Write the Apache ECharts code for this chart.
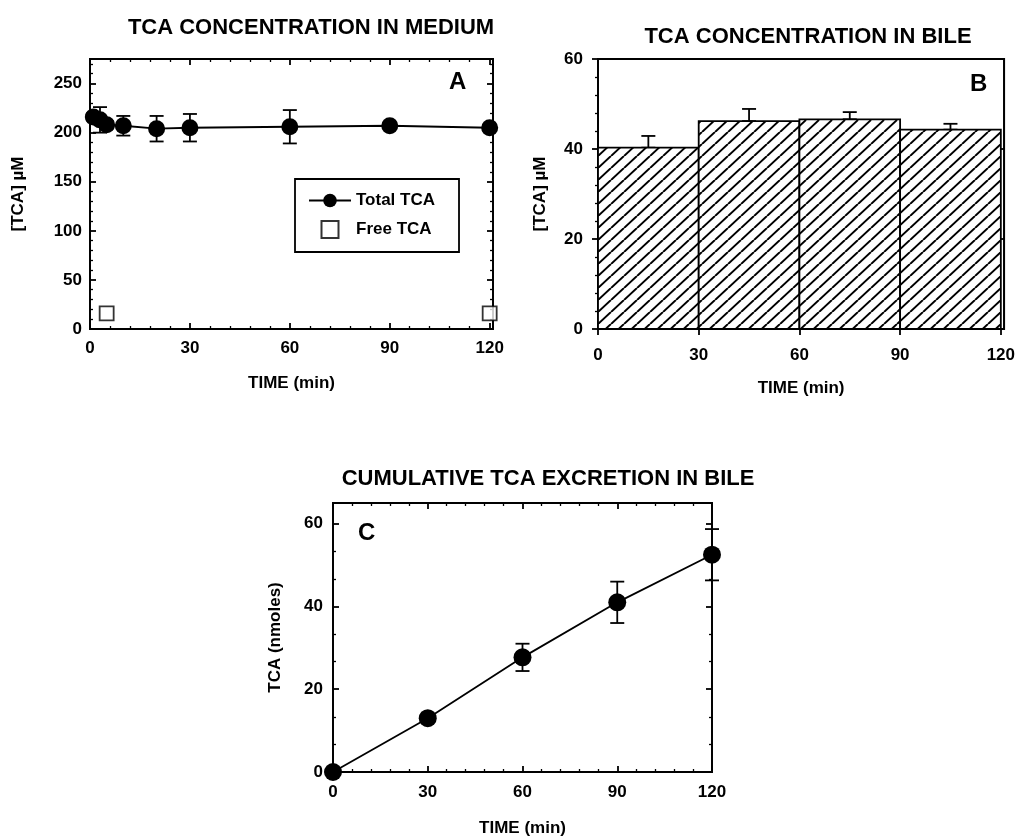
<!DOCTYPE html>
<html>
<head>
<meta charset="utf-8">
<script src="https://cdn.jsdelivr.net/npm/echarts@6/dist/echarts.min.js"></script>
<style>
  html, body { margin: 0; padding: 0; background: #fff; }
  #chart { width: 1018px; height: 840px; }
</style>
</head>
<body>
<div id="chart"></div>
<script>
// Panel A: TCA in the incubation medium
const timeA = [1, 3, 5, 10, 20, 30, 60, 90, 120];
const totalA = [216, 213, 208, 207, 204, 205, 206, 207, 205];
const totalErrA = [4, 13, 4, 10, 13, 14, 17, 3, 3];
const freeTimeA = [5, 120];
const freeA = [16, 16];

// Panel B: TCA concentration in bile per 30-min collection period
const binStartB = [0, 30, 60, 90];
const binEndB = [30, 60, 90, 120];
const bileB = [40.3, 46.2, 46.6, 44.3];
const bileErrB = [2.6, 2.7, 1.6, 1.3];

// Panel C: cumulative biliary excretion
const timeC = [0, 30, 60, 90, 120];
const cumC = [0, 13.0, 27.7, 41.0, 52.5];
const cumErrC = [0, 0, 3.3, 5.0, 6.2];

const FONT = "'Liberation Sans', Arial, sans-serif";
const BLACK = '#000';

// diagonal hatch used to fill the bile bars
function hatchPattern() {
  const c = document.createElement('canvas');
  const w = 13, h = 12;
  c.width = w; c.height = h;
  const g = c.getContext('2d');
  g.fillStyle = '#fff';
  g.fillRect(0, 0, w, h);
  g.strokeStyle = '#000';
  g.lineWidth = 2;
  g.beginPath();
  // main diagonal plus the neighbouring copies so the tile wraps cleanly
  for (let k = -1; k <= 1; k++) {
    g.moveTo(k * w, h);
    g.lineTo(k * w + w, 0);
  }
  g.stroke();
  return c;
}
const hatch = hatchPattern();

// vertical error bar with caps between value(1) and value(2)
function errorBar(params, api) {
  const x = api.value(0);
  const lo = api.coord([x, api.value(1)]);
  const hi = api.coord([x, api.value(2)]);
  const w = 7;
  const st = { stroke: BLACK, lineWidth: 1.8 };
  return {
    type: 'group',
    children: [
      { type: 'line', shape: { x1: lo[0], y1: lo[1], x2: hi[0], y2: hi[1] }, style: st },
      { type: 'line', shape: { x1: hi[0] - w, y1: hi[1], x2: hi[0] + w, y2: hi[1] }, style: st },
      { type: 'line', shape: { x1: lo[0] - w, y1: lo[1], x2: lo[0] + w, y2: lo[1] }, style: st }
    ]
  };
}

function histBar(params, api) {
  const p0 = api.coord([api.value(0), 0]);
  const p1 = api.coord([api.value(1), api.value(2)]);
  return {
    type: 'rect',
    shape: { x: p0[0], y: p1[1], width: p1[0] - p0[0], height: p0[1] - p1[1] },
    style: { fill: { image: hatch, repeat: 'repeat' }, stroke: BLACK, lineWidth: 1.8 }
  };
}

const labelStyle = { color: BLACK, fontFamily: FONT, fontWeight: 'bold', fontSize: 17 };
const nameStyle = { color: BLACK, fontFamily: FONT, fontWeight: 'bold', fontSize: 17 };
const titleStyle = { fontFamily: FONT, fontWeight: 'bold', fontSize: 22, color: BLACK };
const lineStyle = { color: BLACK, width: 1.8 };
const minorStyle = { color: BLACK, width: 1.3 };

function valueAxis(opts) {
  const inside = opts.inside !== false;
  return Object.assign({
    type: 'value',
    axisLine: { show: true, onZero: false, lineStyle: lineStyle },
    axisTick: { show: true, inside: inside, length: 6, lineStyle: lineStyle },
    minorTick: { show: true, splitNumber: 5, length: 3, lineStyle: minorStyle },
    splitLine: { show: false },
    minorSplitLine: { show: false },
    axisLabel: Object.assign({ showMaxLabel: false }, labelStyle),
    nameTextStyle: nameStyle,
    nameLocation: 'middle'
  }, opts.extra);
}
function mirrorAxis(opts) {
  return valueAxis({
    extra: Object.assign({ axisLabel: { show: false } }, opts)
  });
}

const gridBox = { show: true, borderColor: BLACK, borderWidth: 1.8, backgroundColor: 'transparent' };

const option = {
  backgroundColor: '#fff',
  animation: false,
  title: [
    { text: 'TCA CONCENTRATION IN MEDIUM', left: 306, top: 12, textAlign: 'center', textStyle: titleStyle },
    { text: 'TCA CONCENTRATION IN BILE', left: 803, top: 21, textAlign: 'center', textStyle: titleStyle },
    { text: 'CUMULATIVE TCA EXCRETION IN BILE', left: 543, top: 463, textAlign: 'center', textStyle: titleStyle }
  ],
  grid: [
    Object.assign({ left: 90, top: 59, width: 403, height: 270 }, gridBox),
    Object.assign({ left: 598, top: 59, width: 407, height: 270 }, gridBox),
    Object.assign({ left: 333, top: 503, width: 379, height: 269 }, gridBox)
  ],
  xAxis: [
    valueAxis({ extra: { gridIndex: 0, min: 0, max: 121, interval: 30, name: 'TIME (min)', nameGap: 46,
      axisLabel: Object.assign({ showMaxLabel: false, margin: 11 }, labelStyle) } }),
    mirrorAxis({ gridIndex: 0, position: 'top', min: 0, max: 121, interval: 30 }),
    valueAxis({ inside: false, extra: { gridIndex: 1, min: 0, max: 121, interval: 30, name: 'TIME (min)', nameGap: 51,
      minorTick: { show: false },
      axisTick: { show: true, inside: false, length: 6, lineStyle: lineStyle },
      axisLabel: Object.assign({ showMaxLabel: false, margin: 18 }, labelStyle) } }),
    valueAxis({ extra: { gridIndex: 2, min: 0, max: 120, interval: 30, name: 'TIME (min)', nameGap: 48,
      axisLabel: Object.assign({ showMaxLabel: true, margin: 12 }, labelStyle) } }),
    mirrorAxis({ gridIndex: 2, position: 'top', min: 0, max: 120, interval: 30 })
  ],
  yAxis: [
    valueAxis({ extra: { gridIndex: 0, min: 0, max: 275, interval: 50, name: '[TCA] µM', nameGap: 63,
      axisLabel: Object.assign({ showMaxLabel: false, margin: 8 }, labelStyle) } }),
    mirrorAxis({ gridIndex: 0, position: 'right', min: 0, max: 275, interval: 50 }),
    valueAxis({ extra: { gridIndex: 1, min: 0, max: 60, interval: 20, name: '[TCA] µM', nameGap: 49,
      axisTick: { show: true, inside: false, length: 6, lineStyle: lineStyle },
      axisLabel: Object.assign({ showMaxLabel: true, margin: 15 }, labelStyle) } }),
    mirrorAxis({ gridIndex: 1, position: 'right', min: 0, max: 60, interval: 20,
      minorTick: { show: false } }),
    valueAxis({ extra: { gridIndex: 2, min: 0, max: 65, interval: 20, name: 'TCA (nmoles)', nameGap: 49,
      minorTick: { show: true, splitNumber: 3, length: 3, lineStyle: minorStyle },
      axisLabel: Object.assign({ showMaxLabel: false, margin: 10 }, labelStyle) } }),
    mirrorAxis({ gridIndex: 2, position: 'right', min: 0, max: 65, interval: 20,
      minorTick: { show: true, splitNumber: 3, length: 3, lineStyle: minorStyle } })
  ],
  legend: {
    data: [
      { name: 'Total TCA' },
      { name: 'Free TCA', icon: 'path://M0,0L10,0L10,10L0,10Z' }
    ],
    orient: 'vertical',
    left: 295, top: 179,
    padding: [13, 24, 13, 13],
    itemWidth: 42, itemHeight: 17, itemGap: 11,
    symbolKeepAspect: true,
    borderColor: BLACK, borderWidth: 1.8,
    textStyle: { fontFamily: FONT, fontWeight: 'bold', fontSize: 17, color: BLACK }
  },
  graphic: [
    { type: 'text', left: 449, top: 70, style: { text: 'A', fontFamily: FONT, fontWeight: 'bold', fontSize: 24, fill: BLACK } },
    { type: 'text', left: 970, top: 72, style: { text: 'B', fontFamily: FONT, fontWeight: 'bold', fontSize: 24, fill: BLACK } },
    { type: 'text', left: 358, top: 521, style: { text: 'C', fontFamily: FONT, fontWeight: 'bold', fontSize: 24, fill: BLACK } }
  ],
  series: [
    {
      type: 'custom', xAxisIndex: 0, yAxisIndex: 0, z: 1,
      renderItem: errorBar,
      data: timeA.map((t, i) => [t, totalA[i] - totalErrA[i], totalA[i] + totalErrA[i]])
    },
    {
      name: 'Total TCA', type: 'line', xAxisIndex: 0, yAxisIndex: 0, z: 3,
      data: timeA.map((t, i) => [t, totalA[i]]),
      symbol: 'circle', symbolSize: 17,
      itemStyle: { color: BLACK },
      lineStyle: { color: BLACK, width: 1.8 }
    },
    {
      name: 'Free TCA', type: 'scatter', xAxisIndex: 0, yAxisIndex: 0, z: 3,
      data: freeTimeA.map((t, i) => [t, freeA[i]]),
      symbol: 'rect', symbolSize: 14,
      itemStyle: { color: '#fff', borderColor: BLACK, borderWidth: 1.8 }
    },
    {
      type: 'custom', xAxisIndex: 2, yAxisIndex: 2, z: 2,
      renderItem: histBar,
      data: binStartB.map((s, i) => [s, binEndB[i], bileB[i]])
    },
    {
      type: 'custom', xAxisIndex: 2, yAxisIndex: 2, z: 1,
      renderItem: errorBar,
      data: binStartB.map((s, i) => [(s + binEndB[i]) / 2, bileB[i], bileB[i] + bileErrB[i]])
    },
    {
      type: 'custom', xAxisIndex: 3, yAxisIndex: 4, z: 1,
      renderItem: errorBar,
      data: timeC.map((t, i) => [t, cumC[i] - cumErrC[i], cumC[i] + cumErrC[i]])
    },
    {
      name: 'Cumulative TCA', type: 'line', xAxisIndex: 3, yAxisIndex: 4, z: 3,
      data: timeC.map((t, i) => [t, cumC[i]]),
      symbol: 'circle', symbolSize: 18,
      itemStyle: { color: BLACK },
      lineStyle: { color: BLACK, width: 1.8 }
    }
  ]
};

const chart = echarts.init(document.getElementById('chart'), null, { renderer: 'canvas' });
chart.setOption(option);
</script>
</body>
</html>
